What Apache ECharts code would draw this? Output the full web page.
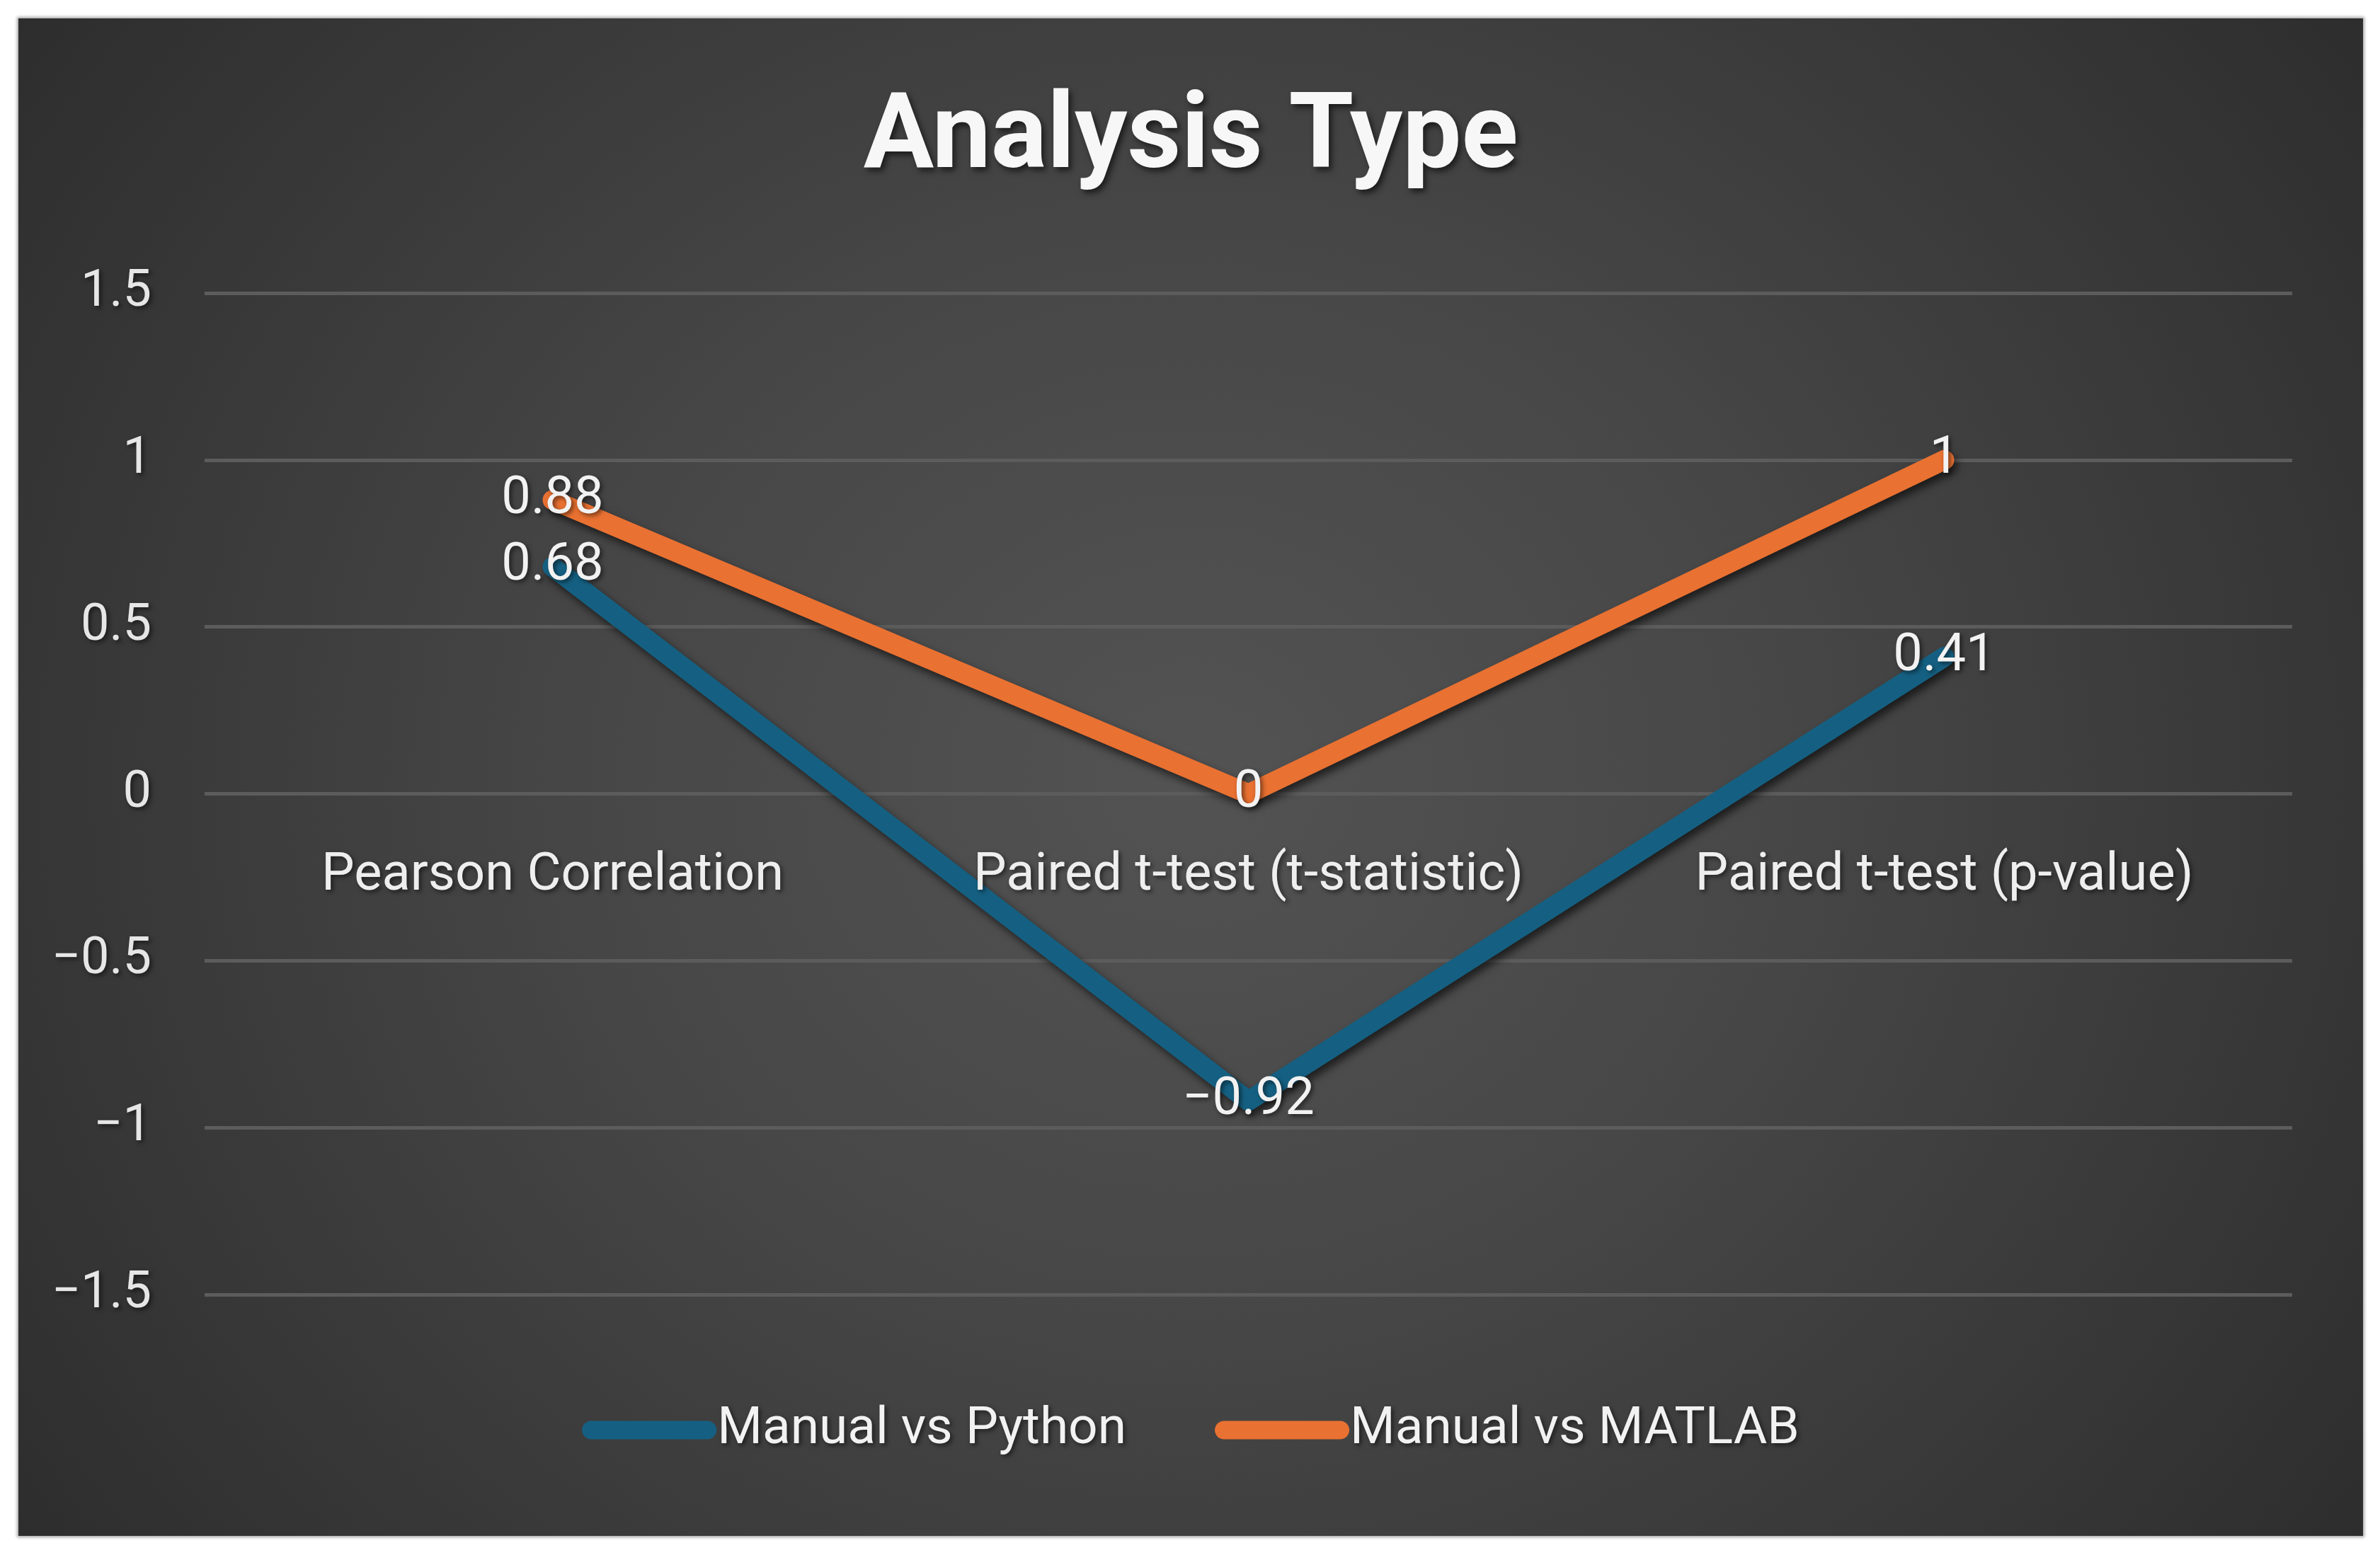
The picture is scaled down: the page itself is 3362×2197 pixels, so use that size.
<!DOCTYPE html>
<html>
<head>
<meta charset="utf-8">
<script src="https://cdn.jsdelivr.net/npm/echarts@6/dist/echarts.min.js"></script>
<style>
  html, body { margin: 0; padding: 0; background: #ffffff; width: 3362px; height: 2197px; overflow: hidden; }
  #chart {
    position: absolute; left: 26px; top: 26px; width: 3312px; height: 2144px;
    background: radial-gradient(ellipse 72% 100% at 50% 50%, #535353 0%, #474747 35%, #262626 100%);
    box-shadow: 0 0 4px 2px rgba(0,0,0,0.35);
  }
</style>
</head>
<body>
<div id="chart"></div>
<script>
const categories = ['Pearson Correlation', 'Paired t-test (t-statistic)', 'Paired t-test (p-value)'];
const seriesNames = ['Manual vs Python', 'Manual vs MATLAB'];
const pythonValues = [0.68, -0.92, 0.41];
const matlabValues = [0.88, 0, 1];
const yMin = -1.5, yMax = 1.5, yStep = 0.5;
const colors = ['#156082', '#E97132'];

const fontMain = 'Roboto, "Liberation Sans", sans-serif';
const textShadow = { textShadowColor: 'rgba(0,0,0,0.55)', textShadowBlur: 6, textShadowOffsetX: 3, textShadowOffsetY: 3 };

function fmt(v) {
  return (v < 0 ? '\u2212' : '') + String(Math.abs(v));
}

function makeSeries(name, values, color) {
  return {
    name: name,
    type: 'line',
    data: values,
    color: color,
    symbol: 'circle',
    symbolSize: 26,
    itemStyle: { color: color },
    lineStyle: {
      color: color, width: 28, cap: 'round', join: 'round',
      shadowColor: 'rgba(0,0,0,0.6)', shadowBlur: 12, shadowOffsetX: 5, shadowOffsetY: 7
    },
    label: Object.assign({
      show: true, position: 'inside', color: '#f2f2f2', fontSize: 74, fontFamily: fontMain,
      formatter: p => fmt(p.value)
    }, textShadow),
    emphasis: { disabled: true },
    z: 3
  };
}

const chart = echarts.init(document.getElementById('chart'), null, { renderer: 'canvas' });
const pill = 'path://M13,0 L177,0 A13,13 0 0 1 177,26 L13,26 A13,13 0 0 1 13,0 Z';
chart.setOption({
  backgroundColor: 'transparent',
  animation: false,
  title: {
    text: 'Analysis Type',
    left: 'center',
    top: 94,
    textStyle: {
      color: '#f7f7f7', fontSize: 148, fontWeight: 'bold', fontFamily: fontMain,
      textShadowColor: 'rgba(0,0,0,0.6)', textShadowBlur: 8, textShadowOffsetX: 4, textShadowOffsetY: 5
    }
  },
  grid: { left: 263, right: 100, top: 388, bottom: 341, containLabel: false },
  legend: {
    data: [
      { name: seriesNames[0], icon: pill, itemStyle: { color: colors[0] } },
      { name: seriesNames[1], icon: pill, itemStyle: { color: colors[1] } }
    ],
    left: 'center',
    top: 1953,
    itemWidth: 190,
    itemHeight: 26,
    itemGap: 125,
    textStyle: Object.assign({ color: '#f2f2f2', fontSize: 73, fontFamily: fontMain, padding: [0, 0, 0, -4] }, textShadow)
  },
  xAxis: {
    type: 'category',
    data: categories,
    boundaryGap: true,
    offset: 0,
    z: 10,
    axisLine: { show: false, onZero: false },
    axisTick: { show: false },
    axisLabel: Object.assign({ color: '#eeeeee', fontSize: 74, fontFamily: fontMain, margin: 80, interval: 0 }, textShadow),
    splitLine: { show: false }
  },
  yAxis: {
    type: 'value',
    min: yMin, max: yMax, interval: yStep,
    axisLine: { show: false },
    axisTick: { show: false },
    axisLabel: Object.assign({ color: '#e6e6e6', fontSize: 72, fontFamily: fontMain, margin: 75, formatter: v => fmt(v) }, textShadow),
    splitLine: { show: true, lineStyle: { color: '#5c5c5c', width: 5 } }
  },
  series: [
    makeSeries(seriesNames[0], pythonValues, colors[0]),
    makeSeries(seriesNames[1], matlabValues, colors[1])
  ]
});

// Place the category axis (and its labels) on the y = 0 line, as in the reference.
const yZeroPx = chart.convertToPixel({ yAxisIndex: 0 }, 0);
const yBottomPx = chart.convertToPixel({ yAxisIndex: 0 }, yMin);
chart.setOption({ xAxis: { offset: yZeroPx - yBottomPx } });
</script>
</body>
</html>
